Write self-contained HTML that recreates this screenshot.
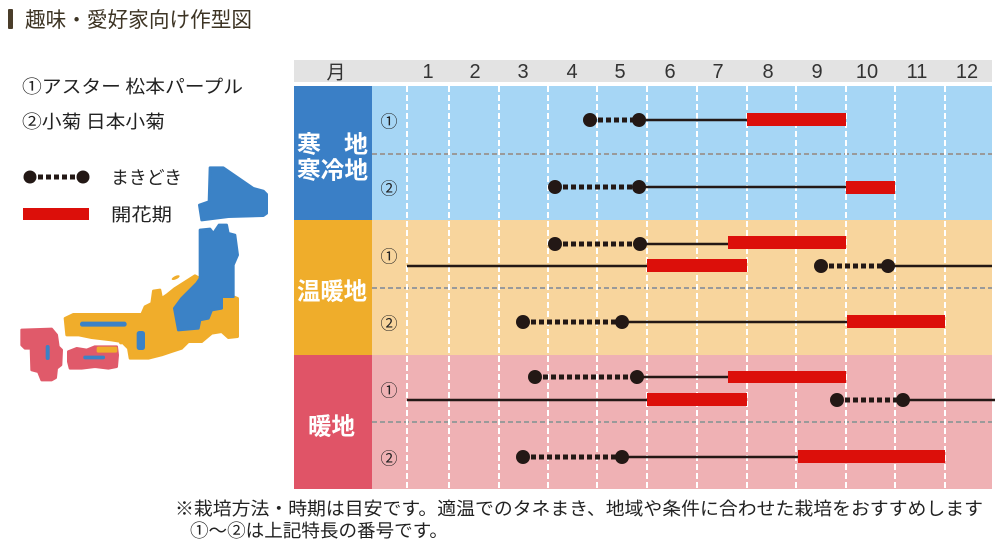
<!DOCTYPE html>
<html><head><meta charset="utf-8"><style>
html,body{margin:0;padding:0;background:#fff;}
svg{display:block;}
text{font-family:"Liberation Sans","Noto Sans CJK JP",sans-serif;}
.jp{font-family:"Noto Sans CJK JP","Liberation Sans",sans-serif;}
</style></head><body>
<svg width="1000" height="560" viewBox="0 0 1000 560" xmlns="http://www.w3.org/2000/svg">
<rect width="1000" height="560" fill="#fff"/>
<!-- title -->
<rect x="8" y="9" width="5" height="20" rx="1" fill="#4a3d2a"/>
<text class="jp" x="25" y="19" font-size="21" fill="#3d3424" dominant-baseline="central" textLength="227" lengthAdjust="spacingAndGlyphs">趣味・愛好家向け作型図</text>

<!-- legend -->
<text class="jp" x="22" y="86" font-size="18" fill="#222" dominant-baseline="central" textLength="221" lengthAdjust="spacingAndGlyphs">①アスター 松本パープル</text>
<text class="jp" x="22" y="121" font-size="18" fill="#222" dominant-baseline="central" textLength="143" lengthAdjust="spacingAndGlyphs">②小菊 日本小菊</text>
<line x1="30" y1="177" x2="83" y2="177" stroke="#231815" stroke-width="5" stroke-dasharray="5 3"/>
<circle cx="30" cy="177" r="6.5" fill="#231815"/>
<circle cx="83" cy="177" r="6.5" fill="#231815"/>
<text class="jp" x="111" y="177" font-size="18" fill="#222" dominant-baseline="central" textLength="71" lengthAdjust="spacingAndGlyphs">まきどき</text>
<rect x="23" y="208" width="66" height="12" fill="#dc0f0a"/>
<text class="jp" x="111" y="214" font-size="18" fill="#222" dominant-baseline="central" textLength="61" lengthAdjust="spacingAndGlyphs">開花期</text>

<!-- map -->
<g transform="translate(15,155) scale(0.33333)" stroke-linejoin="round">
  <polygon fill="#3b82c6" stroke="#3b82c6" stroke-width="8" points="585,38 625,38 715,100 745,108 755,118 755,175 745,182 640,185 560,195 553,150 582,140"/>
  <polygon fill="#f0ad2b" stroke="#f0ad2b" stroke-width="8" points="150,490 175,478 380,478 390,455 410,445 415,408 435,405 440,430 455,420 480,400 540,362 558,372 500,430 478,460 490,525 550,520 555,495 580,490 590,465 620,460 620,425 655,425 668,430 668,545 640,548 620,530 590,535 560,560 520,560 500,580 470,590 440,600 400,610 345,610 340,580 320,560 290,555 230,548 190,540 155,540"/>
  <polygon fill="#3b82c6" stroke="#3b82c6" stroke-width="8" points="555,225 585,222 595,235 612,210 635,210 640,235 660,240 668,300 655,330 655,425 620,425 620,460 590,465 580,490 555,495 550,520 490,525 478,460 500,430 545,385 555,370"/>
  <rect x="365" y="528" width="25" height="57" rx="8" fill="#3b82c6"/>
  <rect x="195" y="500" width="140" height="15" rx="7" fill="#3b82c6"/>
  <circle cx="318" cy="562" r="6" fill="#f0ad2b"/>
  <ellipse cx="482" cy="368" rx="13" ry="5" transform="rotate(-25 482 368)" fill="#f0ad2b"/>
  <polygon fill="#e05a6a" stroke="#e05a6a" stroke-width="8" points="20,525 110,522 125,540 130,575 140,585 138,630 125,640 122,668 110,675 80,675 70,650 50,645 48,580 30,580 20,570"/>
  <rect x="92" y="570" width="12" height="45" rx="6" fill="#3b82c6"/>
  <polygon fill="#e05a6a" stroke="#e05a6a" stroke-width="8" points="160,590 185,580 215,585 240,575 305,575 308,600 305,635 280,640 240,635 200,640 165,640 160,620"/>
  <rect x="245" y="575" width="62" height="18" rx="5" fill="#f0ad2b"/>
  <rect x="205" y="602" width="65" height="11" rx="5" fill="#3b82c6"/>
</g>

<!-- chart header -->
<rect x="294" y="60" width="698" height="22" fill="#e3e3e3"/>
<g font-size="20" fill="#333" text-anchor="middle" dominant-baseline="central">
<text class="jp" x="336" y="71" font-size="19">月</text>
<text x="428" y="72">1</text><text x="475" y="72">2</text><text x="523" y="72">3</text>
<text x="572" y="72">4</text><text x="620" y="72">5</text><text x="670" y="72">6</text>
<text x="718" y="72">7</text><text x="768" y="72">8</text><text x="817" y="72">9</text>
<text x="867" y="72">10</text><text x="917" y="72">11</text><text x="967" y="72">12</text>
</g>

<!-- bands -->
<rect x="294" y="86" width="78" height="134" fill="#3a7fc6"/>
<rect x="372" y="86" width="620" height="134" fill="#a6d6f5"/>
<rect x="294" y="220" width="78" height="135" fill="#efad2b"/>
<rect x="372" y="220" width="620" height="135" fill="#f8d59d"/>
<rect x="294" y="355" width="78" height="134" fill="#e05467"/>
<rect x="372" y="355" width="620" height="134" fill="#efb1b4"/>

<!-- region labels -->
<g class="jp" fill="#fff" font-weight="bold" font-size="24" dominant-baseline="central">
<text class="jp" x="297" y="142">寒</text><text class="jp" x="344" y="142">地</text>
<text class="jp" x="297" y="168" textLength="71" lengthAdjust="spacingAndGlyphs">寒冷地</text>
<text class="jp" x="297" y="289" textLength="70" lengthAdjust="spacingAndGlyphs">温暖地</text>
<text class="jp" x="308" y="424" textLength="47" lengthAdjust="spacingAndGlyphs">暖地</text>
</g>

<!-- mid dashed lines -->
<g stroke="#9a9a9a" stroke-width="2" stroke-dasharray="5 3">
<line x1="372" y1="154" x2="992" y2="154"/>
<line x1="372" y1="288" x2="992" y2="288"/>
<line x1="372" y1="422" x2="992" y2="422"/>
</g>
<!-- vertical white dashed -->
<g stroke="#fff" stroke-width="2" stroke-dasharray="6 3">
<line x1="407" y1="86" x2="407" y2="489"/><line x1="449" y1="86" x2="449" y2="489"/>
<line x1="499" y1="86" x2="499" y2="489"/><line x1="548" y1="86" x2="548" y2="489"/>
<line x1="597" y1="86" x2="597" y2="489"/><line x1="647" y1="86" x2="647" y2="489"/>
<line x1="697" y1="86" x2="697" y2="489"/><line x1="747" y1="86" x2="747" y2="489"/>
<line x1="796" y1="86" x2="796" y2="489"/><line x1="846" y1="86" x2="846" y2="489"/>
<line x1="895" y1="86" x2="895" y2="489"/><line x1="945" y1="86" x2="945" y2="489"/>
</g>

<!-- row numbers -->
<g class="jp" font-size="17" fill="#222" text-anchor="middle" dominant-baseline="central">
<text class="jp" x="389" y="120">①</text><text class="jp" x="389" y="187">②</text>
<text class="jp" x="389" y="255">①</text><text class="jp" x="389" y="322">②</text>
<text class="jp" x="389" y="389">①</text><text class="jp" x="389" y="457">②</text>
</g>

<!-- solid lines -->
<g stroke="#231815" stroke-width="2.5">
<line x1="639" y1="120" x2="747" y2="120"/>
<line x1="639" y1="187" x2="846" y2="187"/>
<line x1="640" y1="244" x2="728" y2="244"/>
<line x1="407" y1="266" x2="647" y2="266"/>
<line x1="888" y1="266" x2="992" y2="266"/>
<line x1="622" y1="322" x2="847" y2="322"/>
<line x1="637" y1="377" x2="728" y2="377"/>
<line x1="407" y1="400" x2="647" y2="400"/>
<line x1="903" y1="400" x2="995" y2="400"/>
<line x1="622" y1="457" x2="798" y2="457"/>
</g>
<!-- dotted sowing -->
<g stroke="#231815" stroke-width="5" stroke-dasharray="5 3">
<line x1="590" y1="120" x2="639" y2="120"/>
<line x1="555" y1="187" x2="639" y2="187"/>
<line x1="555" y1="244" x2="640" y2="244"/>
<line x1="821" y1="266" x2="888" y2="266"/>
<line x1="523" y1="322" x2="622" y2="322"/>
<line x1="535" y1="377" x2="637" y2="377"/>
<line x1="837" y1="400" x2="903" y2="400"/>
<line x1="523" y1="457" x2="622" y2="457"/>
</g>
<g fill="#231815">
<circle cx="590" cy="120" r="7"/><circle cx="639" cy="120" r="7"/>
<circle cx="555" cy="187" r="7"/><circle cx="639" cy="187" r="7"/>
<circle cx="555" cy="244" r="7"/><circle cx="640" cy="244" r="7"/>
<circle cx="821" cy="266" r="7"/><circle cx="888" cy="266" r="7"/>
<circle cx="523" cy="322" r="7"/><circle cx="622" cy="322" r="7"/>
<circle cx="535" cy="377" r="7"/><circle cx="637" cy="377" r="7"/>
<circle cx="837" cy="400" r="7"/><circle cx="903" cy="400" r="7"/>
<circle cx="523" cy="457" r="7"/><circle cx="622" cy="457" r="7"/>
</g>
<!-- flowering -->
<g fill="#dc0f0a">
<rect x="747" y="113" width="99" height="13"/>
<rect x="846" y="181" width="49" height="13"/>
<rect x="728" y="236" width="118" height="13"/>
<rect x="647" y="259" width="100" height="13"/>
<rect x="847" y="315" width="98" height="13"/>
<rect x="728" y="371" width="118" height="12"/>
<rect x="647" y="393" width="100" height="13"/>
<rect x="798" y="450" width="147" height="13"/>
</g>

<!-- footer -->
<text class="jp" x="175" y="508" font-size="18" fill="#222" dominant-baseline="central" textLength="808" lengthAdjust="spacingAndGlyphs">※栽培方法・時期は目安です。適温でのタネまき、地域や条件に合わせた栽培をおすすめします</text>
<text class="jp" x="190" y="530" font-size="18" fill="#222" dominant-baseline="central" textLength="258" lengthAdjust="spacingAndGlyphs">①〜②は上記特長の番号です。</text>
</svg>
</body></html>
